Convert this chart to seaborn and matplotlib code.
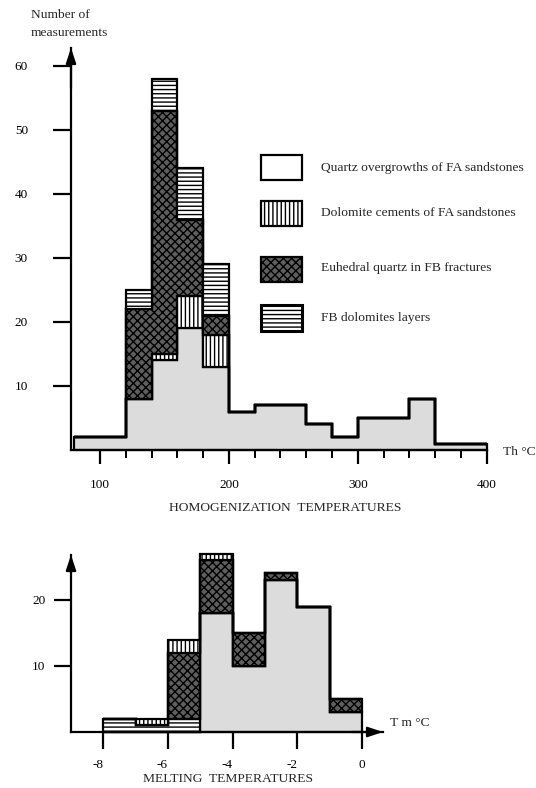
import numpy as np
import pandas as pd
import matplotlib
matplotlib.use("Agg")
import matplotlib.pyplot as plt
import seaborn as sns
from matplotlib.patches import Rectangle
from matplotlib.colors import to_hex

# ---------------- data ----------------
layer_names = ["Quartz overgrowths of FA sandstones",
               "Dolomite cements of FA sandstones",
               "Euhedral quartz in FB fractures",
               "FB dolomites layers"]

# Homogenization temperatures (Th, 20 °C bins)
th_edges = [80, 100, 120, 140, 160, 180, 200, 220, 240, 260, 280, 300, 320, 340, 360, 380, 400]
th_quartz = [2, 2, 8, 14, 19, 13, 6, 7, 7, 4, 2, 5, 5, 8, 1, 1]
th_dolomite = [0, 0, 0, 1, 5, 5, 0, 0, 0, 0, 0, 0, 0, 0, 0, 0]
th_euhedral = [0, 0, 14, 38, 12, 3, 0, 0, 0, 0, 0, 0, 0, 0, 0, 0]
th_fb = [0, 0, 3, 5, 8, 8, 0, 0, 0, 0, 0, 0, 0, 0, 0, 0]
th_major_ticks = [100, 200, 300, 400]
th_minor_ticks = [120, 140, 160, 180, 220, 240, 260, 280, 320, 340, 360, 380]
th_yticks = [10, 20, 30, 40, 50, 60]

# Melting temperatures (Tm, 1 °C bins)
tm_edges = [-8, -7, -6, -5, -4, -3, -2, -1, 0]
tm_quartz = [0, 0, 0, 18, 10, 23, 19, 3]
tm_dolomite = [0, 1, 2, 1, 0, 0, 0, 0]
tm_euhedral = [0, 0, 10, 8, 5, 1, 0, 2]
tm_fb = [2, 1, 2, 0, 0, 0, 0, 0]
tm_ticks = [-8, -6, -4, -2, 0]
tm_ticklabels = ["-8", "-6", "-4", "-2", "0"]
tm_yticks = [10, 20]

# ---------------- style ----------------
sns.set_theme(style="white")
plt.rcParams["font.family"] = ["Liberation Serif", "DejaVu Serif"]
plt.rcParams["axes.unicode_minus"] = False
plt.rcParams["hatch.linewidth"] = 1.0

W, H = 536, 788
fig = plt.figure(figsize=(W / 100, H / 100), dpi=100)
fig.patch.set_facecolor("white")

def fx(x):
    return x / W

def fy(y):
    return 1 - y / H

QU, DO, EU, FB = layer_names
face = {QU: "#dcdcdc", DO: "#ffffff", EU: "#5e5e5e", FB: "#fefefe"}
hatch = {QU: None, DO: "||||", EU: "xxxx", FB: "----"}
face_to_layer = {to_hex(v): k for k, v in face.items()}


def stacked_hist(ax, edges, series, bottom_to_top):
    centers = [(a + b) / 2 for a, b in zip(edges[:-1], edges[1:])]
    rows = []
    for name in bottom_to_top:
        for c, n in zip(centers, series[name]):
            rows.append({"t": c, "n": n, "layer": name})
    df = pd.DataFrame(rows)
    sns.histplot(data=df, x="t", weights="n", hue="layer",
                 hue_order=list(reversed(bottom_to_top)),
                 multiple="stack", element="step", bins=edges,
                 palette=face, alpha=1, linewidth=1.6, edgecolor="black",
                 legend=False, ax=ax)
    for coll in ax.collections:
        key = to_hex(coll.get_facecolor()[0])
        name = face_to_layer.get(key)
        coll.set_edgecolor("black")
        coll.set_linewidth(1.6)
        coll.set_joinstyle("miter")
        coll.set_clip_on(False)
        if name is not None and hatch[name]:
            coll.set_hatch(hatch[name])
    ax.set_xlabel("")
    ax.set_ylabel("")


def style_axes(ax):
    for s in ("top", "right"):
        ax.spines[s].set_visible(False)
    for s in ("left", "bottom"):
        ax.spines[s].set_color("black")
        ax.spines[s].set_linewidth(1.6)
        ax.spines[s].set_zorder(5)
    ax.set_facecolor("none")
    ax.grid(False)


arrow_style = dict(arrowstyle="-|>,head_length=0.75,head_width=0.25",
                   lw=1.6, color="black", shrinkA=0, shrinkB=0, mutation_scale=12)

# ---------------- top chart ----------------
ax1 = fig.add_axes([fx(71), fy(450), fx(486.7) - fx(71), fy(48) - fy(450)])
stacked_hist(ax1, th_edges,
             {QU: th_quartz, DO: th_dolomite, EU: th_euhedral, FB: th_fb},
             [QU, DO, EU, FB])
style_axes(ax1)
ax1.set_xlim(77.5, 400)
ax1.set_ylim(0, 62.8)
ax1.set_xticks(th_major_ticks)
ax1.set_xticklabels([str(t) for t in th_major_ticks])
ax1.set_xticks(th_minor_ticks, minor=True)
ax1.set_yticks(th_yticks)
ax1.set_yticklabels([str(t) for t in th_yticks])
ax1.tick_params(axis="x", which="major", bottom=True, direction="out", length=10,
                width=1.6, color="black", labelsize=9.5, pad=11, labelcolor="black")
ax1.tick_params(axis="x", which="minor", bottom=True, direction="out", length=6,
                width=1.4, color="black")
ax1.tick_params(axis="y", which="major", left=True, direction="out", length=13,
                width=1.6, color="black", labelsize=9.5, pad=18, labelcolor="black")
ax1.annotate("", xy=(0, 1), xycoords="axes fraction", xytext=(0, 0.9),
             arrowprops=arrow_style)

# ---------------- bottom chart ----------------
ax2 = fig.add_axes([fx(71), fy(732), fx(383) - fx(71), fy(555) - fy(732)])
stacked_hist(ax2, tm_edges,
             {QU: tm_quartz, DO: tm_dolomite, EU: tm_euhedral, FB: tm_fb},
             [QU, FB, EU, DO])
style_axes(ax2)
ax2.set_xlim(-9.0, 0.65)
ax2.set_ylim(0, 26.8)
ax2.set_xticks(tm_ticks)
ax2.set_xticklabels(tm_ticklabels)
ax2.set_yticks(tm_yticks)
ax2.set_yticklabels([str(t) for t in tm_yticks])
ax2.tick_params(axis="x", bottom=True, direction="out", length=12.5, width=1.6,
                color="black", labelsize=9.5, pad=7, labelcolor="black")
ax2.tick_params(axis="y", left=True, direction="out", length=12.5, width=1.6,
                color="black", labelsize=9.5, pad=6, labelcolor="black")
for lab in ax2.get_xticklabels():
    if lab.get_text().startswith("-"):
        lab.set_horizontalalignment("right")
ax2.annotate("", xy=(1, 0), xycoords="axes fraction", xytext=(0.9, 0),
             arrowprops=arrow_style)
ax2.annotate("", xy=(0, 1), xycoords="axes fraction", xytext=(0, 0.9),
             arrowprops=arrow_style)

# ---------------- texts ----------------
fs = 9.7
fig.text(fx(31), fy(15), "Number of", ha="left", va="center", fontsize=fs)
fig.text(fx(31), fy(33), "measurements", ha="left", va="center", fontsize=fs)
fig.text(fx(503), fy(452), "Th \u00b0C", ha="left", va="center", fontsize=fs)
fig.text(fx(285), fy(508), "HOMOGENIZATION  TEMPERATURES", ha="center", va="center", fontsize=fs)
fig.text(fx(228), fy(779), "MELTING  TEMPERATURES", ha="center", va="center", fontsize=fs)
fig.text(fx(390), fy(723), "T m \u00b0C", ha="left", va="center", fontsize=fs)

# ---------------- legend ----------------
legend_rows = [(QU, 155, 180, 168), (DO, 201, 226, 213), (EU, 257, 282, 268), (FB, 305, 331, 318)]
for name, y0, y1, yt in legend_rows:
    fc = "white" if name in (QU, DO, FB) else face[name]
    lw = 2.2 if name == FB else 1.6
    r = Rectangle((fx(261), fy(y1)), fx(302) - fx(261), fy(y0) - fy(y1),
                  transform=fig.transFigure, facecolor=fc, edgecolor="black",
                  hatch=hatch[name], linewidth=lw, joinstyle="miter")
    fig.add_artist(r)
    fig.text(fx(321), fy(yt), name, ha="left", va="center", fontsize=fs)

fig.savefig("out.png", dpi=100, facecolor="white")
